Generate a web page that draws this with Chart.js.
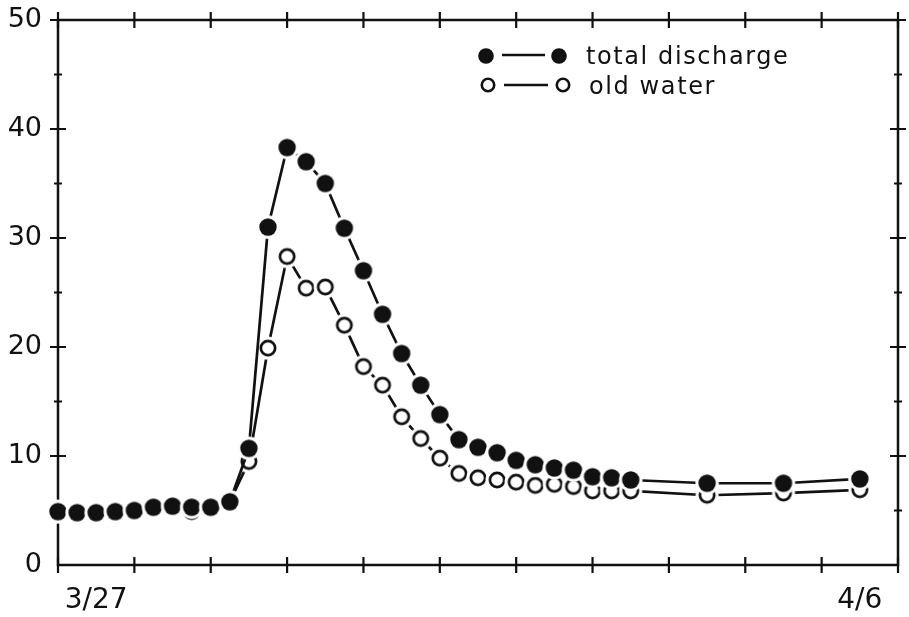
<!DOCTYPE html>
<html>
<head>
<meta charset="utf-8">
<script src="https://cdn.jsdelivr.net/npm/chart.js@4.4.1/dist/chart.umd.min.js"></script>
<style>
  html, body { margin: 0; padding: 0; background: #fff; }
  #caja { width: 909px; height: 617px; }
</style>
</head>
<body>
<div id="caja"><canvas id="grafica" width="909" height="617"></canvas></div>
<script>
// horas desde 3/27 00:00 (una medida cada 6 h, luego cada 24 h)
const horas = [0, 6, 12, 18, 24, 30, 36, 42, 48, 54, 60, 66, 72, 78, 84, 90, 96, 102, 108, 114,
  120, 126, 132, 138, 144, 150, 156, 162, 168, 174, 180, 204, 228, 252];

const descargaTotal = [4.9, 4.8, 4.8, 4.9, 5.0, 5.3, 5.4, 5.3, 5.3, 5.8, 10.7, 31.0, 38.3, 37.0, 35.0,
  30.9, 27.0, 23.0, 19.4, 16.5, 13.8, 11.5, 10.8, 10.3, 9.6, 9.2, 8.9, 8.7, 8.1, 8.0, 7.8, 7.5, 7.5, 7.9];

const aguaVieja = [4.9, 4.8, 4.8, 4.9, 5.0, 5.3, 5.4, 4.9, 5.3, 5.8, 9.5, 19.9, 28.3, 25.4, 25.5,
  22.0, 18.2, 16.5, 13.6, 11.6, 9.8, 8.4, 8.0, 7.8, 7.6, 7.3, 7.4, 7.2, 6.8, 6.8, 6.8, 6.4, 6.6, 6.9];

const etiquetasX = ['3/27', '4/6'];
const posEtiquetasX = [12, 252];
const nombres = ['total discharge', 'old water'];

const tinta = '#111';

// marcador dibujado en un canvas, con un halo blanco para separar las líneas
function marcador(r, halo, trazo) {
  const c = document.createElement('canvas');
  const s = 2 * Math.ceil(r + halo) + 2;
  c.width = c.height = s;
  const g = c.getContext('2d');
  g.beginPath();
  g.arc(s / 2, s / 2, r + halo, 0, 2 * Math.PI);
  g.fillStyle = '#fff';
  g.fill();
  g.beginPath();
  if (trazo) {
    g.arc(s / 2, s / 2, r - trazo / 2, 0, 2 * Math.PI);
    g.lineWidth = trazo;
    g.strokeStyle = tinta;
    g.stroke();
  } else {
    g.arc(s / 2, s / 2, r, 0, 2 * Math.PI);
    g.fillStyle = tinta;
    g.fill();
  }
  return c;
}

const puntoLleno = marcador(8.7, 3, 0);
const puntoVacio = marcador(8.5, 3, 2.7);
const leyLleno = marcador(7.8, 0, 0);
const leyVacio = marcador(7.5, 0, 2.6);

// marco y marcas que cruzan los ejes
const marco = {
  id: 'marco',
  beforeDatasetsDraw(chart) {
    const { ctx, chartArea: a, scales } = chart;
    ctx.save();
    ctx.strokeStyle = tinta;
    ctx.lineWidth = 2.5;
    ctx.strokeRect(a.left, a.top, a.right - a.left, a.bottom - a.top);
    ctx.lineWidth = 2.2;
    ctx.beginPath();
    for (let h = 0; h <= 264; h += 24) {
      const px = scales.x.getPixelForValue(h);
      ctx.moveTo(px, a.bottom - 8); ctx.lineTo(px, a.bottom + 8);
      ctx.moveTo(px, a.top - 8); ctx.lineTo(px, a.top + 8);
    }
    for (let v = 5; v <= 50; v += 5) {
      const py = scales.y.getPixelForValue(v);
      const l = v % 10 === 0 ? 8 : 4;
      ctx.moveTo(a.left - l, py); ctx.lineTo(a.left + l, py);
      ctx.moveTo(a.right - l, py); ctx.lineTo(a.right + l, py);
    }
    ctx.stroke();
    ctx.restore();
  },
  afterDraw(chart) {
    const { ctx } = chart;
    ctx.save();
    ctx.strokeStyle = tinta;
    ctx.lineWidth = 2.5;
    ctx.beginPath();
    ctx.moveTo(502, 55); ctx.lineTo(545, 55);
    ctx.moveTo(504, 85); ctx.lineTo(548, 85);
    ctx.stroke();
    [[leyLleno, 486, 56], [leyLleno, 559, 56], [leyVacio, 488, 85], [leyVacio, 563, 85]].forEach(([im, x, y]) => {
      ctx.drawImage(im, x - im.width / 2, y - im.height / 2);
    });
    ctx.fillStyle = tinta;
    ctx.font = '24px "DejaVu Sans"';
    ctx.letterSpacing = '1.6px';
    ctx.textBaseline = 'alphabetic';
    ctx.fillText(nombres[0], 586, 64);
    ctx.fillText(nombres[1], 589, 94);
    ctx.restore();
  }
};

Chart.defaults.font.family = '"DejaVu Sans"';
Chart.defaults.color = tinta;

new Chart(document.getElementById('grafica'), {
  type: 'line',
  data: {
    datasets: [
      {
        label: nombres[0],
        data: horas.map((h, i) => ({ x: h, y: descargaTotal[i] })),
        borderColor: tinta,
        borderWidth: 2.7,
        pointStyle: puntoLleno,
        pointRadius: 8,
        tension: 0,
        clip: false
      },
      {
        label: nombres[1],
        data: horas.map((h, i) => ({ x: h, y: aguaVieja[i] })),
        borderColor: tinta,
        borderWidth: 2.7,
        pointStyle: puntoVacio,
        pointRadius: 8,
        tension: 0,
        clip: false
      }
    ]
  },
  options: {
    responsive: false,
    animation: false,
    events: [],
    layout: { padding: { top: 20, right: 11, left: 0, bottom: 0 } },
    plugins: { legend: { display: false }, tooltip: { enabled: false } },
    scales: {
      x: {
        type: 'linear',
        min: 0,
        max: 264,
        grid: { display: false, drawTicks: false, tickLength: 0 },
        border: { display: false },
        afterBuildTicks: s => { s.ticks = posEtiquetasX.map(v => ({ value: v })); },
        afterFit: s => { s.height = 52; s.paddingLeft = 0; s.paddingRight = 0; },
        ticks: {
          autoSkip: false,
          maxRotation: 0,
          padding: 19,
          font: { size: 28 },
          callback: (v, i) => etiquetasX[i]
        }
      },
      y: {
        min: 0,
        max: 50,
        grid: { display: false, drawTicks: false, tickLength: 0 },
        border: { display: false },
        afterFit: s => { s.width = 58; s.paddingTop = 0; s.paddingBottom = 0; },
        ticks: {
          stepSize: 5,
          autoSkip: false,
          padding: 16,
          font: { size: 27 },
          callback: v => (v % 10 === 0 ? v : '')
        }
      }
    }
  },
  plugins: [marco]
});
</script>
</body>
</html>
